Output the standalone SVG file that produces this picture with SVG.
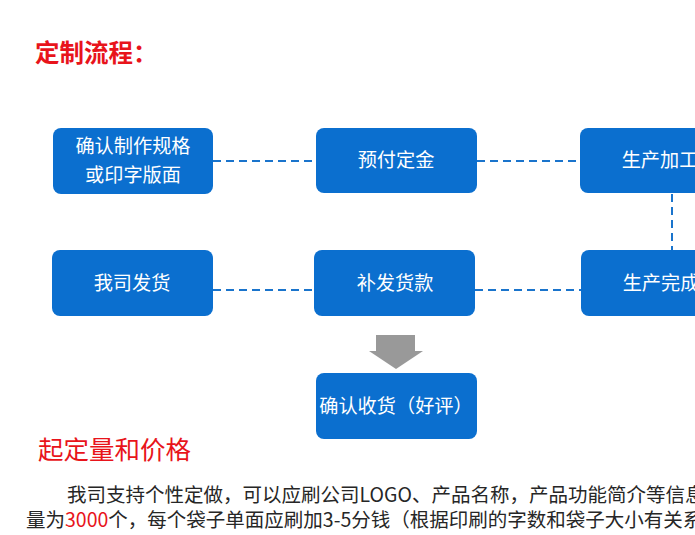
<svg xmlns="http://www.w3.org/2000/svg" width="695" height="535" viewBox="0 0 695 535">
<style>
.box{fill:#0b6fcf;}
.bt{fill:#ffffff;font-family:"Noto Sans CJK SC","Noto Sans",sans-serif;font-size:19.2px;text-anchor:middle;}
.dash{stroke:#1a74cc;stroke-width:2;stroke-dasharray:8,5;fill:none;}
.red{fill:#e8141b;font-family:"Noto Sans CJK SC",sans-serif;}
.para{fill:#262626;font-family:"Noto Sans CJK SC",sans-serif;font-size:19.5px;}
</style>
<rect width="695" height="535" fill="#ffffff"/>
<text class="red" x="35" y="62" font-size="24.5" font-weight="bold">定制流程：</text>
<g id="connectors">
<line class="dash" x1="213" y1="161" x2="316" y2="161"/>
<line class="dash" x1="477" y1="161" x2="580" y2="161"/>
<line class="dash" x1="672" y1="194" x2="672" y2="250"/>
<line class="dash" x1="213" y1="290" x2="314" y2="290"/>
<line class="dash" x1="475" y1="290" x2="581" y2="290"/>
<polygon points="376,335 415,335 415,351 423,351 396,369 369,351 376,351" fill="#999999"/>
</g>
<g id="n1"><rect class="box" x="53" y="128" width="160" height="66" rx="8"/><text class="bt" x="133" y="153">确认制作规格</text><text class="bt" x="133" y="182">或印字版面</text></g>
<g id="n2"><rect class="box" x="316" y="128" width="161" height="65" rx="8"/><text class="bt" x="396" y="167">预付定金</text></g>
<g id="n3"><rect class="box" x="580" y="128" width="160" height="65" rx="8"/><text class="bt" x="660" y="167">生产加工</text></g>
<g id="n4"><rect class="box" x="52" y="250" width="161" height="66" rx="8"/><text class="bt" x="132" y="290">我司发货</text></g>
<g id="n5"><rect class="box" x="314" y="250" width="161" height="66" rx="8"/><text class="bt" x="395" y="290">补发货款</text></g>
<g id="n6"><rect class="box" x="581" y="250" width="160" height="66" rx="8"/><text class="bt" x="661" y="290">生产完成</text></g>
<g id="n7"><rect class="box" x="316" y="373" width="161" height="66" rx="8"/><text class="bt" x="396" y="413">确认收货（好评）</text></g>
<text class="red" x="38" y="459" font-size="25.5">起定量和价格</text>
<text class="para" x="67" y="502">我司支持个性定做，可以应刷公司LOGO、产品名称，产品功能简介等信息</text>
<text class="para" x="26" y="527">量为<tspan fill="#e8141b">3000</tspan>个，每个袋子单面应刷加3-5分钱（根据印刷的字数和袋子大小有关系</text>
</svg>
